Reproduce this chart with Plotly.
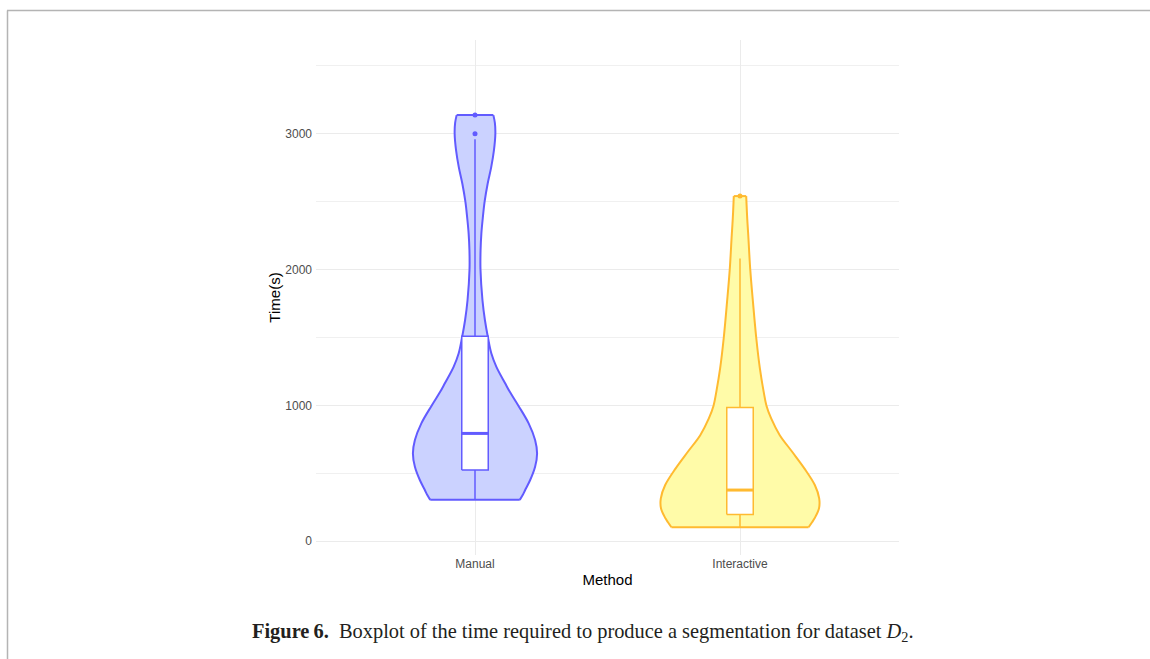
import plotly.graph_objects as go

# ---- data -------------------------------------------------------------
categories = ["Manual", "Interactive"]

# violin outlines: time (s) vs. relative density (trimmed at min/max)
manual_time = [305, 340, 377, 451, 549, 647, 745, 868, 1000, 1100, 1161, 1284, 1382,
               1500, 1627, 1774, 2000, 2142, 2265, 2380, 2500, 2632, 2754, 2877,
               3000, 3080, 3137]
manual_density = [0.563, 0.600, 0.631, 0.694, 0.756, 0.781, 0.756, 0.675, 0.544, 0.438,
                  0.381, 0.269, 0.206, 0.163, 0.125, 0.094, 0.069, 0.070, 0.080, 0.098,
                  0.121, 0.159, 0.204, 0.238, 0.256, 0.250, 0.231]

interactive_time = [103, 140, 169, 243, 316, 414, 537, 659, 781, 904, 1000, 1100, 1272,
                    1500, 1762, 2000, 2252, 2375, 2500, 2541]
interactive_density = [0.863, 0.906, 0.938, 0.994, 0.996, 0.941, 0.809, 0.656, 0.500,
                       0.392, 0.332, 0.298, 0.250, 0.204, 0.163, 0.129, 0.104, 0.091,
                       0.081, 0.078]

# box statistics
q1 = [524, 198]
median = [794, 377]
q3 = [1509, 985]
lower_whisker = [305, 103]
upper_whisker = [2960, 2081]
outliers = [[3000, 3137], [2541]]

# ---- styling ------------------------------------------------------------
line_colors = ["#625BFF", "#FFBA30"]
fill_colors = ["#CBD2FF", "#FFFBA8"]
VIOLIN_HALF = 0.30   # half-width (category units) of the densest point
BOX_WIDTH = 0.10

violin_data = [(manual_time, manual_density), (interactive_time, interactive_density)]

fig = go.Figure()


def line_trace(xs, ys, color, width, **kw):
    return go.Scatter(x=xs, y=ys, mode="lines", line=dict(color=color, width=width, **kw),
                      hoverinfo="skip", showlegend=False)


for i, (t, d) in enumerate(violin_data):
    c = i + 1
    left = [c - v * VIOLIN_HALF for v in d]
    right = [c + v * VIOLIN_HALF for v in d]
    spline = dict(shape="spline", smoothing=1)
    # left outline, then right outline filled back to the left one
    fig.add_trace(line_trace(left, t, line_colors[i], 2, **spline))
    tr = line_trace(right, t, line_colors[i], 2, **spline)
    tr.fill = "tonextx"
    tr.fillcolor = fill_colors[i]
    fig.add_trace(tr)
    # flat trimmed ends
    fig.add_trace(line_trace([left[0], right[0]], [t[0], t[0]], line_colors[i], 2))
    fig.add_trace(line_trace([left[-1], right[-1]], [t[-1], t[-1]], line_colors[i], 2))

for i in range(len(categories)):
    c = i + 1
    x0, x1 = c - BOX_WIDTH / 2, c + BOX_WIDTH / 2
    # whiskers
    fig.add_trace(line_trace([c, c], [q3[i], upper_whisker[i]], line_colors[i], 1.5))
    fig.add_trace(line_trace([c, c], [q1[i], lower_whisker[i]], line_colors[i], 1.5))
    # box
    box = line_trace([x0, x1, x1, x0, x0], [q1[i], q1[i], q3[i], q3[i], q1[i]],
                     line_colors[i], 1.5)
    box.fill = "toself"
    box.fillcolor = "white"
    fig.add_trace(box)
    # thicker median bar
    fig.add_trace(line_trace([x0, x1], [median[i], median[i]], line_colors[i], 3))
    # outlying points
    fig.add_trace(go.Scatter(
        x=[c] * len(outliers[i]), y=outliers[i], mode="markers",
        marker=dict(color=line_colors[i], size=5),
        hoverinfo="skip", showlegend=False,
    ))

# ---- layout -------------------------------------------------------------
W, H = 1150, 659
ML, MR, MT, MB = 316, 251, 40, 104
PW, PH = W - ML - MR, H - MT - MB


def px_x(px):
    return (px - ML) / PW


def px_y(py):
    return (H - MB - py) / PH


frame = "#B4B4B4"
fig.update_layout(
    width=W, height=H,
    margin=dict(l=ML, r=MR, t=MT, b=MB),
    paper_bgcolor="white", plot_bgcolor="white",
    font=dict(family="Liberation Sans, Arial, sans-serif"),
    xaxis=dict(
        range=[0.4, 2.6], tickvals=[1, 2], ticktext=categories,
        showgrid=True, gridcolor="#EBEBEB", gridwidth=1,
        zeroline=False, showline=False, ticks="",
        tickfont=dict(size=12, color="#4D4D4D"),
        title=dict(text="Method", font=dict(size=15, color="black"), standoff=4),
    ),
    yaxis=dict(
        range=[-101, 3690], tick0=0, dtick=1000,
        showgrid=True, gridcolor="#EBEBEB", gridwidth=1,
        minor=dict(dtick=500, tick0=0, showgrid=True, gridcolor="#F0F0F0", gridwidth=1),
        zeroline=False, showline=False, ticks="", ticklabelstandoff=3,
        tickfont=dict(size=12, color="#4D4D4D"),
        title=dict(text="Time(s)", font=dict(size=15, color="black"), standoff=1),
    ),
    shapes=[
        dict(type="line", xref="paper", yref="paper",
             x0=px_x(7), x1=px_x(1150), y0=px_y(10.5), y1=px_y(10.5),
             line=dict(color=frame, width=1.5)),
        dict(type="line", xref="paper", yref="paper",
             x0=px_x(7.5), x1=px_x(7.5), y0=px_y(10.5), y1=px_y(659),
             line=dict(color=frame, width=1.5)),
    ],
    annotations=[
        dict(xref="paper", yref="paper", x=px_x(583), y=px_y(632),
             xanchor="center", yanchor="middle", showarrow=False,
             text="<b>Figure\u20096.</b>  Boxplot of the time required to produce a segmentation for dataset <i>D</i><sub>2</sub>.",
             font=dict(family="Liberation Serif, Times New Roman, serif", size=20.4, color="#231F20")),
    ],
)

fig.write_html("out.html")
